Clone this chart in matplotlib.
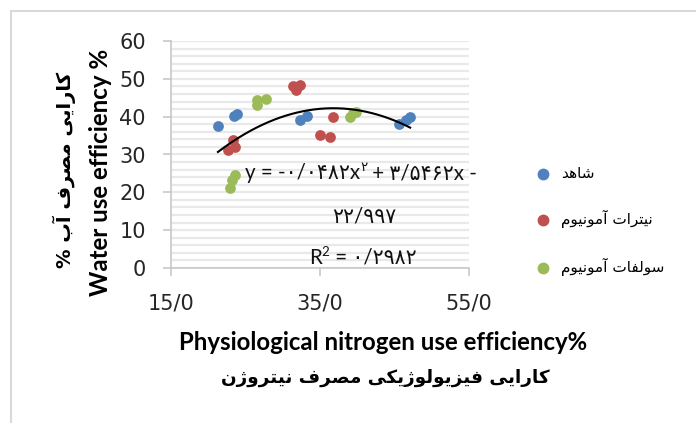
import numpy as np
import matplotlib.pyplot as plt
from matplotlib.lines import Line2D
from matplotlib.ticker import FuncFormatter, MultipleLocator

# contextual forms: isolated, final, initial, medial
FORMS = {
    'ا': '\uFE8D\uFE8E', 'آ': '\uFE81\uFE82', 'د': '\uFEA9\uFEAA',
    'ر': '\uFEAD\uFEAE', 'ز': '\uFEAF\uFEB0', 'ژ': '\uFB8A\uFB8B',
    'و': '\uFEED\uFEEE',
    'ب': '\uFE8F\uFE90\uFE91\uFE92', 'ت': '\uFE95\uFE96\uFE97\uFE98',
    'س': '\uFEB1\uFEB2\uFEB3\uFEB4', 'ش': '\uFEB5\uFEB6\uFEB7\uFEB8',
    'ص': '\uFEB9\uFEBA\uFEBB\uFEBC', 'ف': '\uFED1\uFED2\uFED3\uFED4',
    'ک': '\uFB8E\uFB8F\uFB90\uFB91', 'ل': '\uFEDD\uFEDE\uFEDF\uFEE0',
    'م': '\uFEE1\uFEE2\uFEE3\uFEE4', 'ن': '\uFEE5\uFEE6\uFEE7\uFEE8',
    'ه': '\uFEE9\uFEEA\uFEEB\uFEEC', 'ی': '\uFBFC\uFBFD\uFBFE\uFBFF',
}
DUAL = {c for c, f in FORMS.items() if len(f) == 4}


def fa(text):
    out = []
    for i, c in enumerate(text):
        if c not in FORMS:
            out.append(c)
            continue
        prev = text[i - 1] if i > 0 else ''
        nxt = text[i + 1] if i + 1 < len(text) else ''
        jp = prev in DUAL
        jn = c in DUAL and nxt in FORMS
        f = FORMS[c]
        if jp and jn:
            g = f[3]
        elif jp:
            g = f[1]
        elif jn:
            g = f[2]
        else:
            g = f[0]
        out.append(g)
    return ''.join(reversed(out))


# data
labels = ['شاهد', 'نیترات آمونیوم', 'سولفات آمونیوم']
colors = ['#4F81BD', '#C0504D', '#9BBB59']
x_control = [21.3, 23.4, 23.8, 32.3, 33.2, 45.6, 46.6, 47.1]
y_control = [37.6, 40.3, 40.6, 39.1, 40.3, 38.1, 39.0, 40.0]
x_nitrate = [31.4, 32.3, 31.8, 36.7, 35.0, 36.3, 23.3, 22.7, 23.6]
y_nitrate = [48.0, 48.3, 47.0, 40.0, 35.2, 34.6, 33.9, 31.2, 32.1]
x_sulfate = [26.5, 27.8, 26.5, 39.4, 39.8, 39.0, 23.6, 22.9, 23.2]
y_sulfate = [44.4, 44.6, 43.1, 40.9, 41.3, 40.0, 24.6, 21.1, 23.3]
coef = [-0.0482, 3.5462, -22.997]
r2 = 0.2982

plt.rcParams['font.family'] = ['Lato', 'DejaVu Sans']

W, H = 696, 423
fig = plt.figure(figsize=(W / 100, H / 100), dpi=100)
ax = fig.add_axes([171 / W, 1 - 268 / H, 298 / W, 227 / H])

series = [(x_control, y_control), (x_nitrate, y_nitrate), (x_sulfate, y_sulfate)]
for (xs, ys), c, lab in zip(series, colors, labels):
    ax.scatter(xs, ys, s=60, color=c, linewidths=0, label=fa(lab), zorder=3)

# quadratic trendline over all points
all_x = np.array(x_control + x_nitrate + x_sulfate)
xx = np.linspace(all_x.min(), all_x.max(), 200)
ax.plot(xx, np.polyval(coef, xx), color='black', lw=1.5, zorder=4)

ax.set_xlim(15, 55)
ax.set_ylim(0, 60)
ax.set_xticks([15, 35, 55])
ax.xaxis.set_major_formatter(FuncFormatter(lambda v, p: f'{v:.1f}'.replace('.', '/')))
ax.yaxis.set_major_locator(MultipleLocator(10))
ax.yaxis.set_minor_locator(MultipleLocator(2))
ax.grid(axis='y', which='both', color='#e9e9e9', lw=1.6, zorder=0)
ax.set_axisbelow(True)
for s in ['top', 'right']:
    ax.spines[s].set_visible(False)
for s in ['left', 'bottom']:
    ax.spines[s].set_color('#c8c8c8')
    ax.spines[s].set_linewidth(1.2)
ax.tick_params(which='major', direction='out', length=6, width=1.2, color='#c8c8c8',
               labelsize=15, labelcolor='#262626')
for t in ax.get_xticklabels() + ax.get_yticklabels():
    t.set_family('DejaVu Sans')
ax.tick_params(which='minor', length=0)
ax.tick_params(axis='x', pad=12)
ax.tick_params(axis='y', pad=12)


def text_run(parts, x, y, size):
    # lay out pieces left to right on one baseline; parts are (text, scale, rise)
    prev = None
    for txt, scale, rise in parts:
        yy = 1 - (y - rise) / H
        if prev is None:
            prev = fig.text(x / W, yy, txt, ha='left', va='baseline',
                            fontsize=size * scale, color='#111111')
        else:
            prev = ax.annotate(txt, xy=(1, yy), xycoords=(prev, 'figure fraction'),
                               ha='left', va='baseline', fontsize=size * scale,
                               color='#111111')


# trendline equation
text_run([('y = -۰/۰۴۸۲x', 1, 0), ('۲', 0.65, 8), (' + ۳/۵۴۶۲x -', 1, 0)], 245, 179, 14.8)
fig.text(364 / W, 1 - 222 / H, '۲۲/۹۹۷', ha='center', va='baseline',
         fontsize=14.8, color='#111111')
text_run([('R', 1, 0), ('2', 0.65, 8), (' = ۰/۲۹۸۲', 1, 0)], 309, 264, 14.8)

# axis titles
fig.text(100 / W, 1 - 172 / H, 'Water use efficiency %', rotation=90,
         ha='center', va='center', fontsize=17.4, fontweight='bold')
fig.text(64 / W, 1 - 170 / H, fa('کارایی مصرف آب %'), rotation=90,
         ha='center', va='center', fontsize=14, fontweight='bold',
         family=['DejaVu Sans'])
fig.text(383 / W, 1 - 342 / H, 'Physiological nitrogen use efficiency%',
         ha='center', va='center', fontsize=17.3, fontweight='bold')
fig.text(385 / W, 1 - 378 / H, fa('کارایی فیزیولوژیکی مصرف نیتروژن'),
         ha='center', va='center', fontsize=13.2, fontweight='bold',
         family=['DejaVu Sans'])

leg = fig.legend(loc='upper left', bbox_to_anchor=(514 / W, 1 - 152 / H),
                 frameon=False, prop={'family': 'DejaVu Sans', 'size': 11},
                 labelspacing=1.93, handletextpad=0.2, markerscale=1.1)

# chart frame
fig.add_artist(Line2D([11 / W, 11 / W], [0, 1 - 11 / H], color='#d9d9d9', lw=1.5))
fig.add_artist(Line2D([11 / W, 1], [1 - 11 / H, 1 - 11 / H], color='#d9d9d9', lw=1.5))

fig.savefig('out.png', dpi=100)
